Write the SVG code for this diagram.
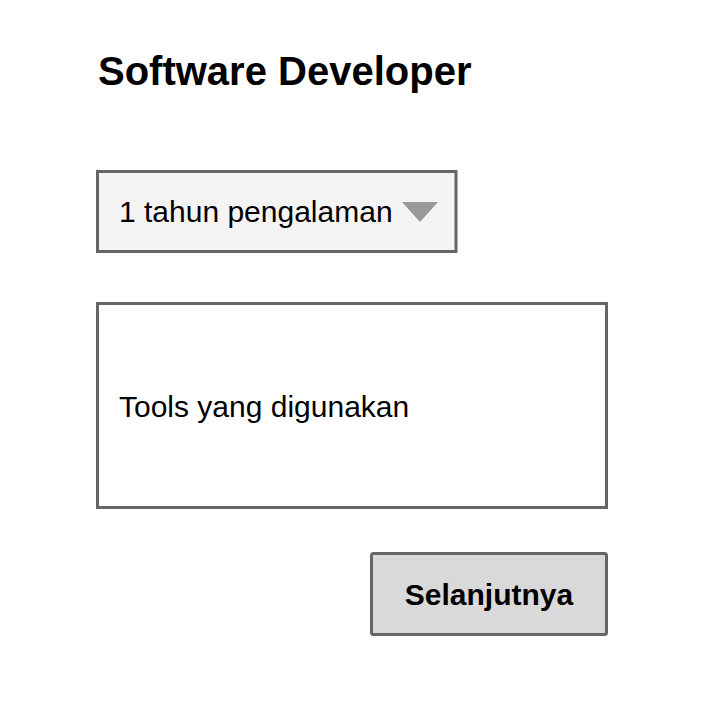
<svg xmlns="http://www.w3.org/2000/svg" width="704" height="704" viewBox="0 0 704 704">
<style>
.box{stroke:#666;stroke-width:3}
.t{font-family:"Liberation Sans",Arial,sans-serif;fill:#000}
</style>
<rect width="704" height="704" fill="#fff"/>
<g id="title"><text class="t" x="98" y="85" font-size="40" font-weight="bold">Software Developer</text></g>
<g id="dropdown">
<rect class="box" x="97.5" y="171.5" width="358.5" height="80" fill="#f4f4f4"/>
<text class="t" x="119" y="222" font-size="30">1 tahun pengalaman</text>
<polygon points="402,202 438,202 420,222" fill="#999"/>
</g>
<g id="textarea">
<rect class="box" x="97.5" y="303.5" width="509" height="204" fill="#fff"/>
<text class="t" x="119" y="417" font-size="30">Tools yang digunakan</text>
</g>
<g id="button">
<rect class="box" x="371.5" y="553.5" width="235" height="81" rx="2" fill="#d9d9d9"/>
<text class="t" x="489" y="605" font-size="30" font-weight="bold" text-anchor="middle">Selanjutnya</text>
</g>
<g id="connectors"/>
</svg>
